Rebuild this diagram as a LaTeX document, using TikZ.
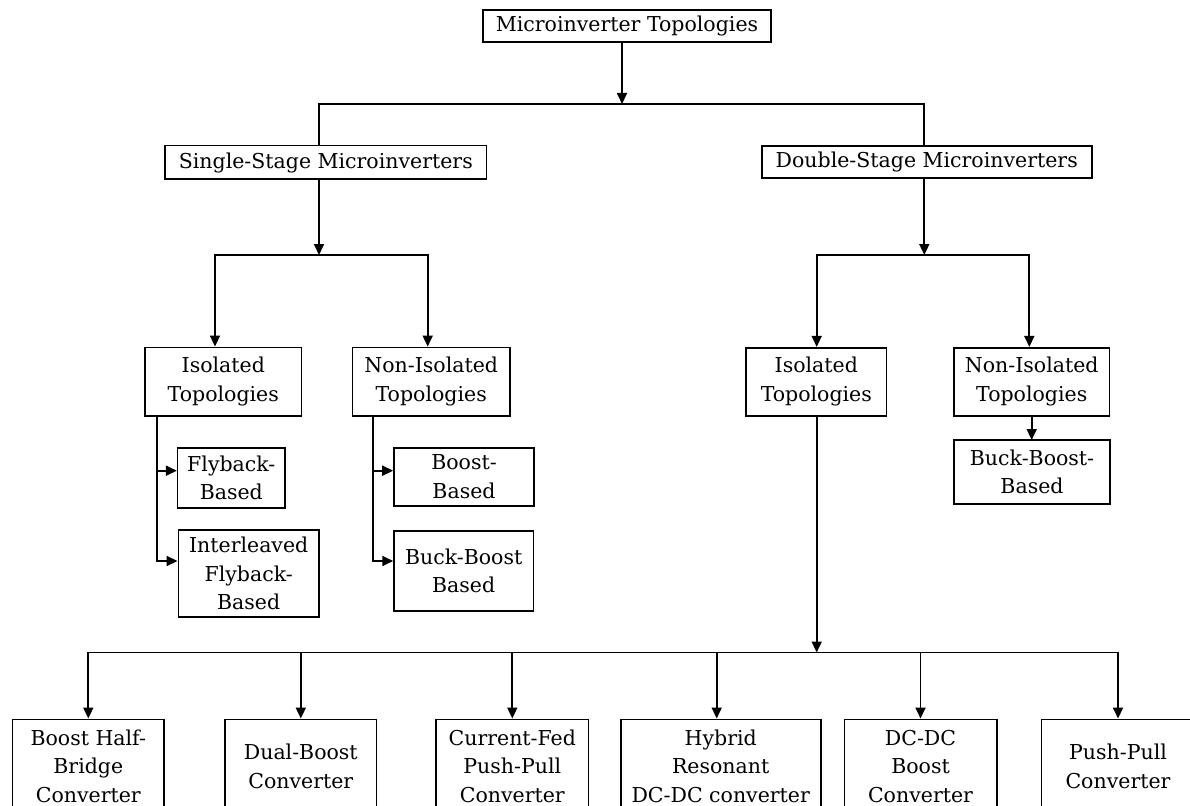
\documentclass[tikz,border=0pt]{standalone}
\usepackage{fontspec}
\setmainfont{DejaVu Serif}
\usetikzlibrary{arrows.meta}
\begin{document}
\begin{tikzpicture}[x=1pt,y=-1pt,
  box/.style={draw, line width=1.6pt, inner sep=0pt, align=center,
    font=\fontsize{20.5}{28.5}\selectfont},
  link/.style={line width=1.8pt},
  tip/.tip={Triangle[length=11pt,width=10pt]},
  arr/.style={link, -tip},
  arrs/.style={link, tip-tip}]
\clip (0,0) rectangle (1190,805);
\fill[white] (0,0) rectangle (1190,805);

% --- boxes ---
\node[box, minimum width=288pt,   minimum height=32pt]   (top)    at (627,26)      {Microinverter Topologies};
\node[box, minimum width=321.7pt, minimum height=33.6pt] (single) at (325.8,162.5) {Single-Stage Microinverters};
\node[box, minimum width=330pt,   minimum height=32pt]   (double) at (926.7,162.3) {Double-Stage Microinverters};

\node[box, minimum width=156.7pt, minimum height=68.7pt] (isoL)   at (223.3,381.7) {Isolated\\Topologies};
\node[box, minimum width=157.7pt, minimum height=68.7pt] (nonL)   at (431.2,381.7) {Non-Isolated\\Topologies};
\node[box, minimum width=107.3pt, minimum height=60pt]   (flyb)   at (231.3,477.7) {Flyback-\\Based};
\node[box, minimum width=140.7pt, minimum height=87pt]   (interl) at (248.7,573.5) {Interleaved\\Flyback-\\Based};
\node[box, minimum width=140pt,   minimum height=58pt]   (boostb) at (464,476.7)   {Boost-\\Based};
\node[box, minimum width=139.3pt, minimum height=80pt]   (buckL)  at (463.7,571)   {Buck-Boost\\Based};

\node[box, minimum width=140.7pt, minimum height=68pt]   (isoR)   at (816.3,381.7) {Isolated\\Topologies};
\node[box, minimum width=155.3pt, minimum height=68pt]   (nonR)   at (1031.7,381.7) {Non-Isolated\\Topologies};
\node[box, minimum width=156pt,   minimum height=64pt]   (buckR)  at (1032,472)    {Buck-Boost-\\Based};

\node[box, minimum width=151.3pt, minimum height=94pt] (b1) at (88.3,766.3)  {Boost Half-\\Bridge\\Converter};
\node[box, minimum width=151.7pt, minimum height=94pt] (b2) at (300.8,766.3) {Dual-Boost\\Converter};
\node[box, minimum width=152.6pt, minimum height=94pt] (b3) at (512.3,766.3) {Current-Fed\\Push-Pull\\Converter};
\node[box, minimum width=200pt,   minimum height=94pt] (b4) at (720.7,766.3) {Hybrid\\Resonant\\DC-DC converter};
\node[box, minimum width=152.4pt, minimum height=94pt] (b5) at (920.5,766.3) {DC-DC\\Boost\\Converter};
\node[box, minimum width=152.8pt, minimum height=94pt] (b6) at (1118,766.3)  {Push-Pull\\Converter};

% --- junction points ---
\coordinate (j0) at (622,104);
\coordinate (bL) at (319.3,104);
\coordinate (bR) at (924.3,104);
\coordinate (s0) at (319,255);
\coordinate (sL) at (215,255);
\coordinate (sR) at (427.7,255);
\coordinate (f1) at (156.7,470.7);
\coordinate (f2) at (156.7,561);
\coordinate (g1) at (372.7,470.7);
\coordinate (g2) at (372.7,561);
\coordinate (d0) at (924.3,255);
\coordinate (dL) at (816.7,255);
\coordinate (dR) at (1029.3,255);
\coordinate (nR) at (1031.7,440);
\coordinate (e0) at (816.7,652.5);
\coordinate (e4) at (716.7,652.5);

% --- first level ---
\draw[arr] (top.south -| j0) -- (j0);
\draw[link] (single.north -| bL) |- (bR) -- (double.north -| bR);

% --- single-stage branch ---
\draw[arr] (single.south -| s0) -- (s0);
\draw[arrs] (isoL.north -| sL) |- (sR) -- (nonL.north -| sR);
\draw[arr] (isoL.south -| f2) -- (f2) -- (f2 -| interl.west);
\draw[arr] (f1) -- (f1 -| flyb.west);
\draw[arr] (nonL.south -| g2) -- (g2) -- (g2 -| buckL.west);
\draw[arr] (g1) -- (g1 -| boostb.west);

% --- double-stage branch ---
\draw[arr] (double.south -| d0) -- (d0);
\draw[arrs] (isoR.north -| dL) |- (dR) -- (nonR.north -| dR);
\draw[arr] (nonR.south -| nR) -- (nR);

% --- isolated double-stage converters ---
\draw[arr] (isoR.south -| e0) -- (e0);
\draw[arrs] (b1.north) |- (b6.north |- e0) -- (b6.north);
\draw[arr] (b2.north |- e0) -- (b2.north);
\draw[arr] (b3.north |- e0) -- (b3.north);
\draw[arr] (e4) -- (e4 |- b4.north);
\draw[arr] (b5.north |- e0) -- (b5.north);
\end{tikzpicture}
\end{document}
